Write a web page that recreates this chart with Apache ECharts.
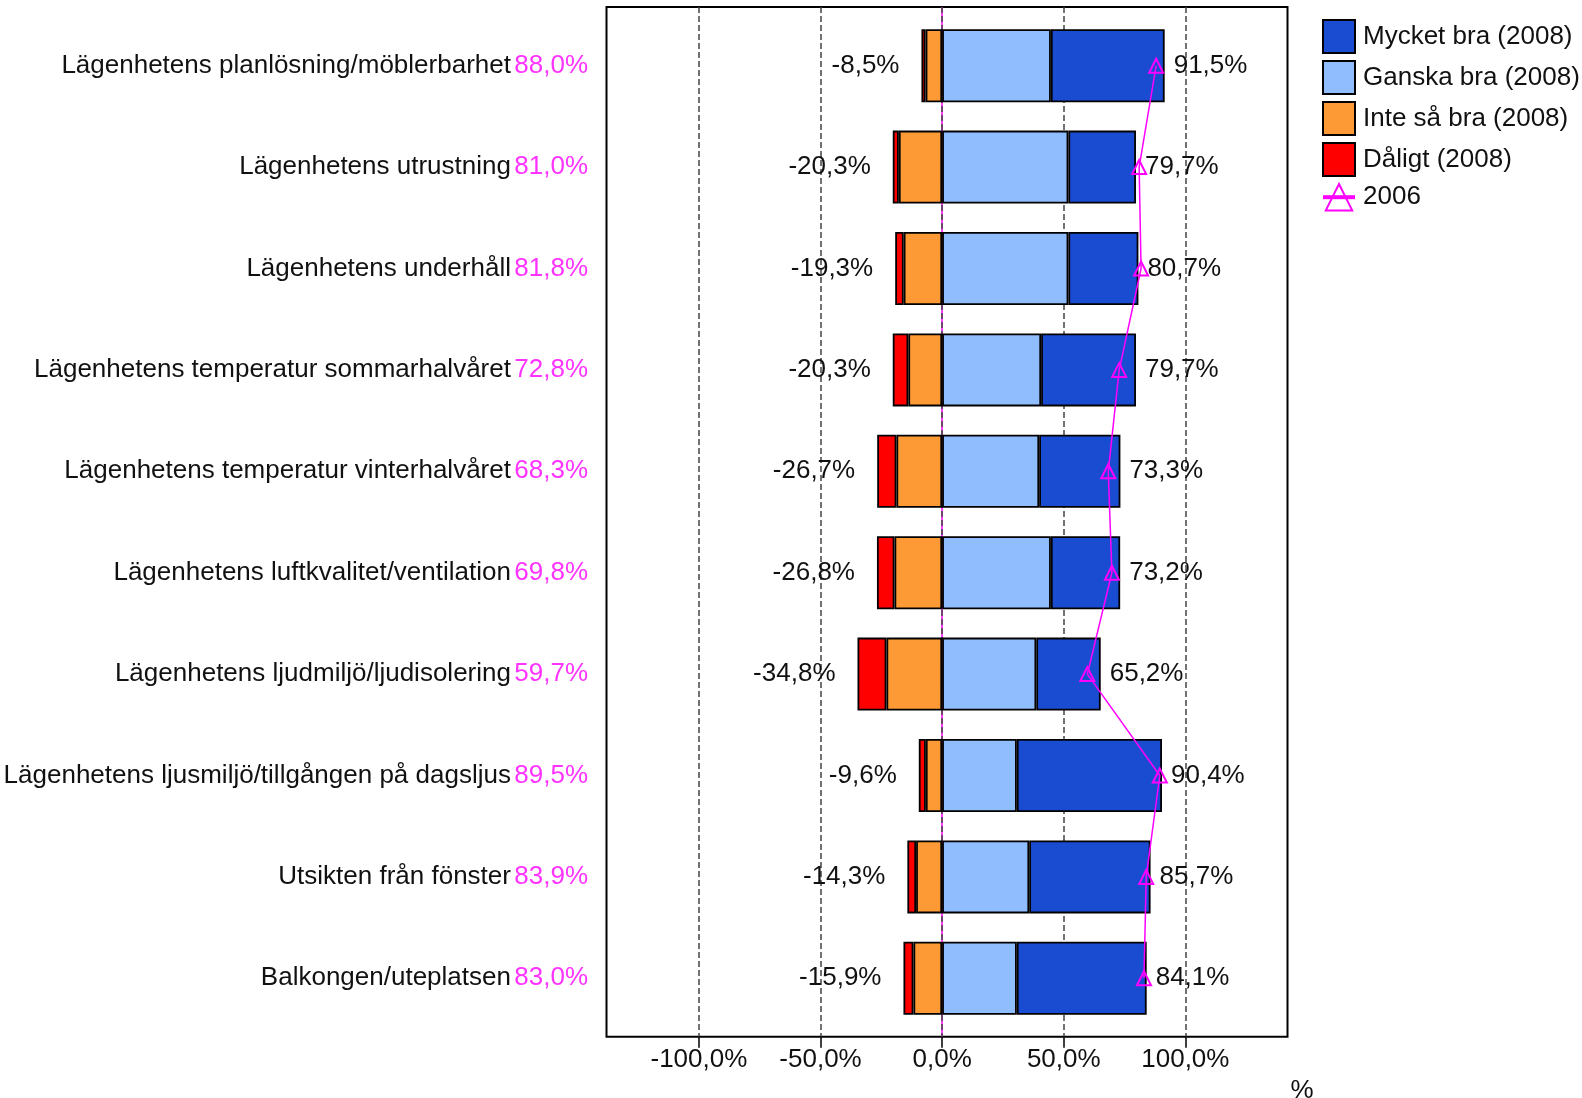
<!DOCTYPE html>
<html>
<head>
<meta charset="utf-8">
<script src="https://cdn.jsdelivr.net/npm/echarts@6/dist/echarts.min.js"></script>
<style>
  html, body { margin: 0; padding: 0; background: #ffffff; }
  #chart { width: 1582px; height: 1098px; }
</style>
</head>
<body>
<div id="chart"></div>
<script>
// Questions, top to bottom
const categories = [
  'Lägenhetens planlösning/möblerbarhet',
  'Lägenhetens utrustning',
  'Lägenhetens underhåll',
  'Lägenhetens temperatur sommarhalvåret',
  'Lägenhetens temperatur vinterhalvåret',
  'Lägenhetens luftkvalitet/ventilation',
  'Lägenhetens ljudmiljö/ljudisolering',
  'Lägenhetens ljusmiljö/tillgången på dagsljus',
  'Utsikten från fönster',
  'Balkongen/uteplatsen'
];

// Share of answers 2008 (%)
const mycketBra = [46.8, 27.8, 28.8, 39.0, 33.4, 28.5, 26.5, 59.7, 49.9, 53.4];
const ganskaBra = [44.7, 51.9, 51.9, 40.7, 39.9, 44.7, 38.7, 30.7, 35.8, 30.7];
const inteSaBra = [6.8, 17.8, 15.8, 13.9, 18.8, 19.6, 22.9, 6.7, 10.7, 11.8];
const daligt    = [1.7, 2.5, 3.5, 6.4, 7.9, 7.2, 11.9, 2.9, 3.6, 4.1];

// Positive share 2006 (%)
const year2006 = [88.0, 81.0, 81.8, 72.8, 68.3, 69.8, 59.7, 89.5, 83.9, 83.0];

// Value axis tick labels
const axisTicks = [-100, -50, 0, 50, 100];

const FONT = 'Liberation Sans';
const fmt = v => (Math.round(v * 10) / 10).toFixed(1).replace('.', ',') + '%';

const X_MIN = -138, X_MAX = 142;
const frame = { left: 606.5, right: 294.5, top: 7, bottom: 61.3 };
const bars = { left: 606.5, right: 294.5, top: 15, bottom: 69 };

const chart = echarts.init(document.getElementById('chart'), null, { renderer: 'canvas' });

const barBase = {
  type: 'bar',
  stack: 'svar',
  xAxisIndex: 2,
  yAxisIndex: 1,
  barWidth: 73
};

chart.setOption({
  animation: false,
  backgroundColor: '#ffffff',
  textStyle: { fontFamily: FONT },
  grid: [
    Object.assign({ show: true, borderColor: '#000', borderWidth: 2, backgroundColor: '#fff', outerBoundsMode: 'none' }, frame),
    Object.assign({ outerBoundsMode: 'none' }, bars)
  ],
  legend: {
    orient: 'vertical',
    left: 1321,
    top: 19,
    padding: 0,
    itemWidth: 32,
    itemHeight: 33,
    itemGap: 6,
    textStyle: { fontFamily: FONT, fontSize: 26, color: '#111', padding: [0, 0, 0, 3] },
    data: [
      { name: 'Mycket bra (2008)', icon: 'rect', itemStyle: { borderWidth: 2 } },
      { name: 'Ganska bra (2008)', icon: 'rect', itemStyle: { borderWidth: 2 } },
      { name: 'Inte så bra (2008)', icon: 'rect', itemStyle: { borderWidth: 2 } },
      { name: 'Dåligt (2008)', icon: 'rect', itemStyle: { borderWidth: 2 } },
      { name: '2006', lineStyle: { width: 4 } }
    ]
  },
  xAxis: [
    {
      type: 'value', gridIndex: 0, min: X_MIN, max: X_MAX, z: 1,
      axisLine: { show: false },
      axisTick: { show: true, customValues: axisTicks, length: 11, lineStyle: { color: '#000', width: 1.5 } },
      axisLabel: {
        customValues: axisTicks, margin: 10, fontSize: 26, fontFamily: FONT, color: '#111',
        formatter: v => fmt(v)
      },
      splitLine: { show: true, lineStyle: { color: '#444', width: 1.5, type: [6, 3] } },
      name: '%',
      nameLocation: 'end',
      nameGap: 3,
      nameTextStyle: { fontFamily: FONT, fontSize: 26, color: '#111', verticalAlign: 'top', lineHeight: 26, padding: [41, 0, 0, 0] }
    },
    {
      // zero line
      type: 'value', gridIndex: 0, min: X_MIN, max: X_MAX, z: 0,
      axisLine: { show: false },
      axisTick: { show: false, customValues: [0] },
      axisLabel: { show: false, customValues: [0] },
      splitLine: { show: true, lineStyle: { color: '#ff00ff', width: 1.5, type: 'solid' } }
    },
    {
      type: 'value', gridIndex: 1, min: X_MIN, max: X_MAX, show: false
    }
  ],
  yAxis: [
    { type: 'value', gridIndex: 0, min: 0, max: 1, show: false },
    {
      type: 'category', gridIndex: 1, data: categories, inverse: true,
      axisLine: { show: false },
      axisTick: { show: false },
      splitLine: { show: false },
      axisLabel: {
        margin: 18.5,
        formatter: (value, idx) => '{n|' + value + '} {v|' + fmt(year2006[idx]) + '}',
        rich: {
          n: { fontFamily: FONT, fontSize: 26, color: '#111' },
          v: { fontFamily: FONT, fontSize: 26, color: '#ff33ff' }
        }
      }
    }
  ],
  series: [
    Object.assign({}, barBase, {
      name: 'Ganska bra (2008)',
      data: ganskaBra,
      itemStyle: { color: '#8fbdfd', borderColor: '#000', borderWidth: 1.8 }
    }),
    Object.assign({}, barBase, {
      name: 'Mycket bra (2008)',
      data: mycketBra,
      itemStyle: { color: '#1a4cd2', borderColor: '#000', borderWidth: 1.8 },
      label: {
        show: true, position: 'right', distance: 9,
        fontFamily: FONT, fontSize: 26, color: '#111',
        formatter: p => fmt(mycketBra[p.dataIndex] + ganskaBra[p.dataIndex])
      }
    }),
    Object.assign({}, barBase, {
      name: 'Inte så bra (2008)',
      data: inteSaBra.map(v => -v),
      itemStyle: { color: '#fe9a35', borderColor: '#000', borderWidth: 1.8 }
    }),
    Object.assign({}, barBase, {
      name: 'Dåligt (2008)',
      data: daligt.map(v => -v),
      itemStyle: { color: '#ff0000', borderColor: '#000', borderWidth: 1.8 },
      label: {
        show: true, position: 'left', distance: 22,
        fontFamily: FONT, fontSize: 26, color: '#111',
        formatter: p => '-' + fmt(daligt[p.dataIndex] + inteSaBra[p.dataIndex])
      }
    }),
    {
      name: '2006',
      type: 'line',
      xAxisIndex: 2,
      yAxisIndex: 1,
      data: year2006,
      z: 5,
      symbol: 'triangle',
      symbolSize: 14,
      lineStyle: { color: '#ff00ff', width: 1.5 },
      itemStyle: { color: 'rgba(255,0,255,0)', borderColor: '#ff00ff', borderWidth: 2 }
    }
  ]
});
</script>
</body>
</html>
